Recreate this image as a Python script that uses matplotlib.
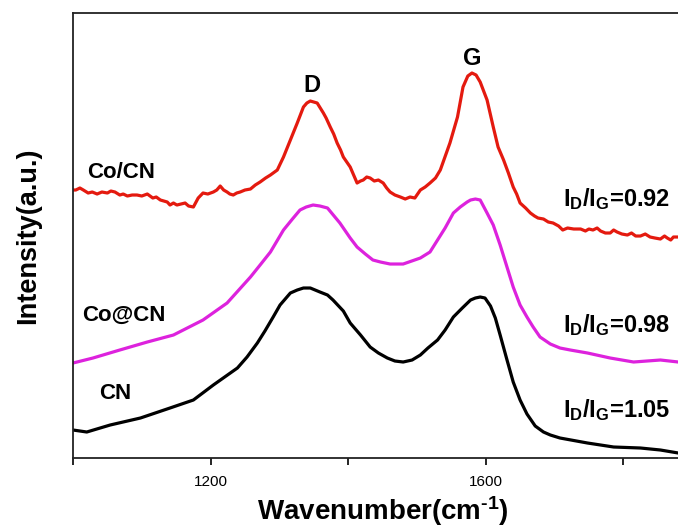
import matplotlib
matplotlib.use("Agg")
import matplotlib.pyplot as plt

plt.rcParams['font.family'] = ['Liberation Sans', 'DejaVu Sans']
plt.rcParams['mathtext.fontset'] = 'custom'
plt.rcParams['mathtext.rm'] = 'Liberation Sans:bold'
plt.rcParams['mathtext.it'] = 'Liberation Sans:bold'
plt.rcParams['mathtext.bf'] = 'Liberation Sans:bold'

# Raman spectra (intensity in arbitrary units)
wn_cocn = [1000, 1004, 1010, 1015, 1022, 1028, 1035, 1042, 1050, 1055, 1061, 1068, 1073,
           1079, 1086, 1093, 1100, 1108, 1116, 1121, 1127, 1132, 1137, 1141, 1146, 1151,
           1157, 1163, 1168, 1175, 1182, 1189, 1196, 1204, 1209, 1214, 1219, 1224, 1228,
           1233, 1238, 1243, 1250, 1258, 1265, 1272, 1280, 1287, 1297, 1306, 1316, 1326,
           1335, 1340, 1345, 1350, 1355, 1364, 1368, 1374, 1379, 1384, 1389, 1393, 1398,
           1403, 1408, 1413, 1418, 1422, 1427, 1432, 1438, 1444, 1451, 1456, 1461, 1468,
           1476, 1483, 1490, 1497, 1505, 1512, 1519, 1527, 1534, 1548, 1559, 1567, 1574,
           1580, 1586, 1592, 1602, 1611, 1618, 1626, 1633, 1640, 1645, 1650, 1658, 1665,
           1671, 1676, 1684, 1691, 1698, 1706, 1712, 1719, 1728, 1738, 1745, 1750, 1756,
           1762, 1767, 1774, 1781, 1786, 1791, 1798, 1806, 1812, 1818, 1825, 1832, 1839,
           1846, 1854, 1860, 1864, 1869, 1873, 1880, 1890, 1900]
int_cocn = [268, 268, 270, 268, 265, 266, 264, 266, 265, 267, 266, 263, 264,
            262, 263, 263, 262, 264, 260, 261, 258, 257, 256, 253, 255, 253,
            254, 255, 252, 251, 260, 265, 264, 266, 268, 272, 268, 266, 264,
            263, 265, 266, 268, 269, 273, 276, 280, 283, 288, 301, 318, 335,
            351, 355, 357, 356, 355, 345, 340, 331, 324, 315, 308, 301, 296,
            291, 283, 275, 277, 278, 281, 280, 277, 278, 275, 270, 266, 263,
            261, 259, 261, 260, 268, 271, 275, 280, 288, 315, 341, 371, 382,
            385, 383, 376, 358, 331, 311, 298, 285, 271, 264, 255, 250, 245,
            242, 240, 239, 236, 235, 232, 228, 230, 229, 229, 227, 229, 228,
            230, 227, 225, 225, 228, 226, 224, 223, 225, 222, 222, 224, 221,
            220, 219, 222, 220, 218, 221, 221, 219, 220]

wn_coatcn = [1000, 1029, 1068, 1108, 1146, 1189, 1224, 1258, 1272, 1287, 1306, 1319,
             1330, 1339, 1349, 1359, 1370, 1388, 1403, 1413, 1425, 1436, 1447, 1461,
             1480, 1505, 1519, 1530, 1541, 1553, 1563, 1573, 1578, 1585, 1592, 1602,
             1611, 1621, 1640, 1650, 1660, 1669, 1679, 1694, 1708, 1723, 1748, 1781,
             1815, 1854, 1880, 1900]
int_coatcn = [95, 100, 108, 116, 123, 138, 155, 181, 193, 206, 228, 239,
              248, 251, 253, 252, 250, 235, 220, 211, 204, 198, 196, 194,
              194, 200, 206, 218, 230, 245, 251, 256, 258, 259, 258, 245,
              233, 213, 171, 153, 141, 131, 121, 114, 110, 108, 105, 100,
              96, 98, 96, 96]

wn_cn = [1000, 1020, 1054, 1098, 1141, 1175, 1204, 1239, 1253, 1268, 1279, 1291,
         1301, 1316, 1326, 1335, 1345, 1359, 1370, 1378, 1393, 1403, 1418, 1432,
         1444, 1457, 1468, 1480, 1493, 1505, 1516, 1530, 1541, 1553, 1566, 1578,
         1585, 1592, 1599, 1607, 1614, 1621, 1631, 1640, 1650, 1660, 1672, 1684,
         1694, 1708, 1748, 1786, 1825, 1854, 1880, 1900]
int_cn = [28, 26, 33, 40, 50, 58, 73, 90, 101, 115, 127, 141,
          153, 165, 168, 170, 170, 166, 163, 158, 147, 135, 123, 111,
          105, 100, 97, 96, 98, 103, 110, 118, 128, 141, 150, 158,
          160, 161, 160, 152, 140, 123, 98, 76, 58, 44, 32, 26,
          23, 20, 15, 11, 10, 8, 5, 5]

names = ['Co/CN', 'Co@CN', 'CN']
ratios = ['0.92', '0.98', '1.05']
colors = ['#e41a0f', '#dd22dd', 'black']

fig = plt.figure(figsize=(6.78, 5.29), dpi=100)
ax = fig.add_axes([0.1077, 0.1342, 0.913, 0.8412])

ax.plot(wn_cocn, int_cocn, color=colors[0], lw=2.3)
ax.plot(wn_coatcn, int_coatcn, color=colors[1], lw=2.3)
ax.plot(wn_cn, int_cn, color=colors[2], lw=2.3)

ax.set_xlim(1000, 1900)
ax.set_ylim(0, 445)

ax.set_xticks([1200, 1600])
ax.set_xticks([1000, 1400, 1800], minor=True)
ax.tick_params(axis='x', which='both', direction='out', length=5, width=1.2,
               labelsize=11, pad=7)
ax.set_yticks([])
for s in ax.spines.values():
    s.set_linewidth(1.3)
    s.set_color('#222222')

ax.set_xlabel(r'Wavenumber(cm$^{\text{-1}}$)', fontsize=20, fontweight='bold', labelpad=4)
ax.set_ylabel('Intensity(a.u.)', fontsize=19.5, fontweight='bold', labelpad=23)

# sample names on the left
ax.text(1020, 286, names[0], fontsize=16, fontweight='bold', ha='left', va='center')
ax.text(1013, 143, names[1], fontsize=16, fontweight='bold', ha='left', va='center')
ax.text(1038, 65, names[2], fontsize=16, fontweight='bold', ha='left', va='center')

# band labels
ax.text(1348, 373, 'D', fontsize=17, fontweight='bold', ha='center', va='center')
ax.text(1580, 400, 'G', fontsize=17, fontweight='bold', ha='center', va='center')

# ID/IG ratios on the right
for yb, r in zip([252, 126, 41], ratios):
    ax.text(1713, yb, r'$\mathrm{I_D/I_G}$=' + r, fontsize=17, fontweight='bold',
            ha='left', va='baseline')

fig.savefig('out.png', dpi=100)
